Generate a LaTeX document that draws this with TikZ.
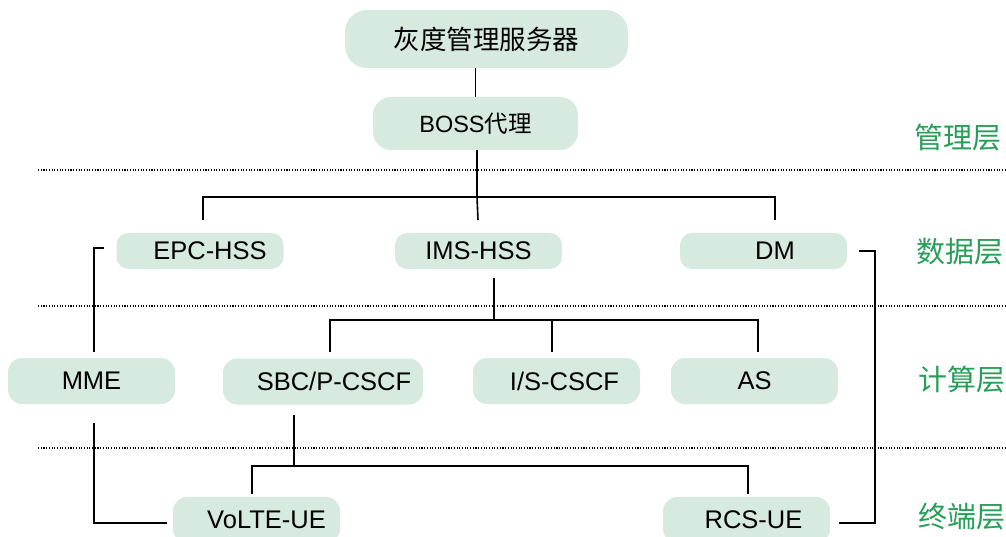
\documentclass[tikz,border=0pt]{standalone}
\usepackage{fontspec}
\setmainfont{Liberation Sans}
\newfontfamily\cjk{Noto Sans CJK SC}
\definecolor{boxfill}{RGB}{214,234,224}
\definecolor{layergreen}{RGB}{40,158,88}
\tikzset{
  box/.style={fill=boxfill, rounded corners=14pt, inner sep=0pt,
    font=\fontsize{25.5}{28}\selectfont, text=black},
  row2/.style={box, minimum width=167pt, minimum height=36pt, rounded corners=12pt},
  row3/.style={box, minimum width=167pt, minimum height=46pt},
  conn/.style={draw=black, line width=1.6pt},
  sep/.style={draw=black, line width=1.1pt, dash pattern=on 1.1pt off 1.6pt},
  layer/.style={text=layergreen, font=\cjk\fontsize{29}{32}\selectfont, inner sep=0pt}
}
\begin{document}
\begin{tikzpicture}[x=1pt, y=-1pt]
\useasboundingbox (0,0) rectangle (1006,537);

% layer separators
\draw[sep] (38,170) -- (1006,170);
\draw[sep] (38,306) -- (1006,306);
\draw[sep] (38,448) -- (1006,448);

% management layer
\node[box, minimum width=283pt, minimum height=58pt, rounded corners=22pt,
      font=\cjk\fontsize{26.5}{30}\selectfont] (gray) at (486.5,39) {灰度管理服务器};
\node[box, minimum width=205pt, minimum height=53pt, rounded corners=18pt,
      font=\fontsize{23.5}{27}\selectfont] (boss) at (475.5,123.5) {BOSS{\cjk 代理}};

% data layer
\node[row2] (epc) at (200,251) {\hspace*{20pt}EPC-HSS};
\node[row2] (ims) at (478.5,251) {IMS-HSS};
\node[row2] (dm)  at (763.5,251) {\hspace*{23pt}DM};

% compute layer
\node[row3] (mme) at (91.5,381) {MME};
\node[row3, minimum width=200pt] (sbc) at (323,381.5) {\hspace*{22pt}SBC/P-CSCF};
\node[row3] (iscscf) at (556.5,381) {\hspace*{16pt}I/S-CSCF};
\node[row3] (as) at (754.5,381) {AS};

% terminal layer
\node[row3] (volte) at (256.5,520) {\hspace*{20pt}VoLTE-UE};
\node[row3] (rcs)   at (746.5,520) {\hspace*{14pt}RCS-UE};

% layer names
\node[layer] (l1) at (958,138) {管理层};
\node[layer] (l2) at (960,252) {数据层};
\node[layer] (l3) at (962,380) {计算层};
\node[layer] (l4) at (962,517) {终端层};

% connector ends near the boxes
\coordinate (bus1) at (477,197);
\coordinate (epcT) at (203,220);
\coordinate (imsT) at (478,220);
\coordinate (dmT)  at (775,220);
\coordinate (imsB) at (494,278);
\coordinate (bus2) at (494,320);
\coordinate (sbcT) at (330,352);
\coordinate (iscT) at (552,352);
\coordinate (asT)  at (758,352);
\coordinate (sbcB) at (294,415);
\coordinate (bus3) at (294,466);
\coordinate (volT) at (252,494);
\coordinate (rcsT) at (748,494);
\coordinate (epcW) at (104,248);
\coordinate (mmeT) at (94,352);
\coordinate (mmeB) at (94,423);
\coordinate (volW) at (167,523);
\coordinate (dmE)  at (859,251);
\coordinate (rcsE) at (839,523);

% management links
\draw[conn] (boss.north |- gray.south) -- (boss.north);
\draw[conn] (bus1 |- boss.south) -- (bus1) -- (imsT);
\draw[conn] (epcT) -- (epcT |- bus1) -- (dmT |- bus1) -- (dmT);

% data to compute links
\draw[conn] (imsB) -- (bus2);
\draw[conn] (sbcT) -- (sbcT |- bus2) -- (asT |- bus2) -- (asT);
\draw[conn] (iscT |- bus2) -- (iscT);

% compute to terminal links
\draw[conn] (sbcB) -- (bus3);
\draw[conn] (volT) -- (volT |- bus3) -- (rcsT |- bus3) -- (rcsT);

% side links
\draw[conn] (epcW) -- (mmeT |- epcW) -- (mmeT);
\draw[conn] (mmeB) -- (mmeB |- volW) -- (volW);
\draw[conn] (dmE) -- (875,251) -- (875,523) -- (rcsE);
\end{tikzpicture}
\end{document}
